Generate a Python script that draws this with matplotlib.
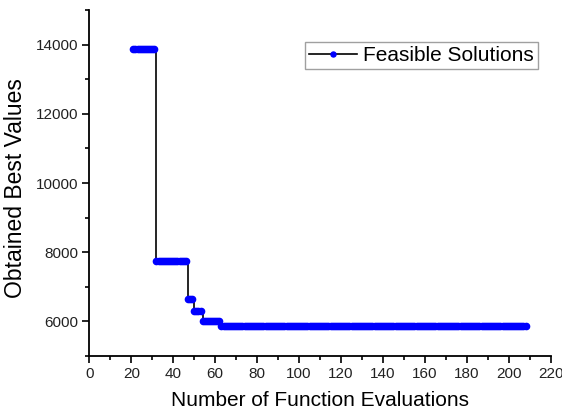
import matplotlib
matplotlib.use("Agg")
import matplotlib.pyplot as plt
from matplotlib.ticker import MultipleLocator

plt.rcParams["font.family"] = ["Liberation Sans", "DejaVu Sans"]

# best value found at each function evaluation
segment_starts = [21, 32, 47, 50, 54, 63]
segment_ends = [31, 46, 49, 53, 62, 208]
segment_values = [13880, 7750, 6660, 6310, 6000, 5870]

evals = []
best = []
for a, b, v in zip(segment_starts, segment_ends, segment_values):
    for n in range(a, b + 1):
        evals.append(n)
        best.append(v)

fig = plt.figure(figsize=(5.62, 4.15), dpi=100)
ax = fig.add_axes([0.159, 0.142, 0.821, 0.834])

ax.plot(evals, best, drawstyle="steps-post", color="black", linewidth=1.2,
        marker="o", markersize=4.5, markerfacecolor="blue",
        markeredgecolor="blue", label="Feasible Solutions")

ax.set_xlim(0, 220)
ax.set_ylim(5000, 15000)
ax.xaxis.set_major_locator(MultipleLocator(20))
ax.xaxis.set_minor_locator(MultipleLocator(10))
ax.yaxis.set_minor_locator(MultipleLocator(1000))
ax.set_yticks([6000, 8000, 10000, 12000, 14000])

for s in ["top", "right"]:
    ax.spines[s].set_visible(False)
for s in ["left", "bottom"]:
    ax.spines[s].set_linewidth(1.3)

ax.tick_params(which="major", direction="out", length=5, width=1.2,
               labelsize=11, labelcolor="#222222", pad=3)
ax.tick_params(which="minor", direction="out", length=3, width=1.2)

ax.set_xlabel("Number of Function Evaluations", fontsize=15, labelpad=7)
ax.set_ylabel("Obtained Best Values", fontsize=16.5)
ax.yaxis.set_label_coords(-0.135, 0.485)

leg = ax.legend(loc="upper right", bbox_to_anchor=(0.972, 0.908),
                borderaxespad=0, fancybox=False, fontsize=15,
                handlelength=2.3, handletextpad=0.3, markerscale=0.8,
                borderpad=0.2)
leg.get_frame().set_edgecolor("#888888")
leg.get_frame().set_linewidth(1.0)

fig.savefig("out.png", dpi=100)
